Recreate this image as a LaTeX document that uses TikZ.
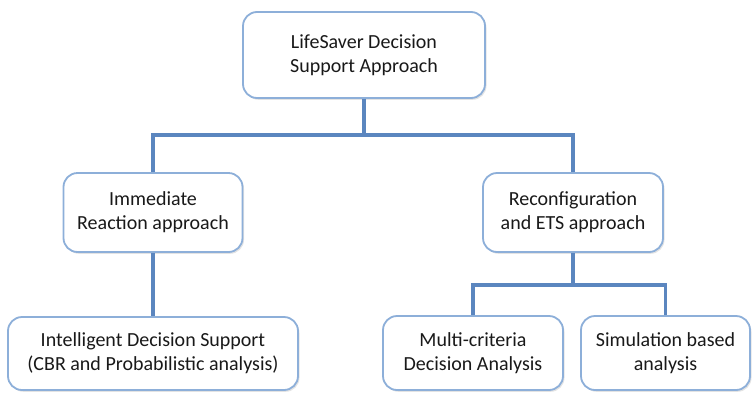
\documentclass[tikz,border=0pt]{standalone}
\usepackage{fontspec}
\setmainfont{Carlito}
\usetikzlibrary{shadows}
\definecolor{boxline}{HTML}{8DAFD9}
\definecolor{linkline}{HTML}{5B86BF}
\tikzset{
  stagebox/.style={draw=boxline, line width=1.8pt, rounded corners=14pt, fill=white,
    align=center, font=\fontsize{20}{24}\selectfont, text=black!90,
    inner sep=0pt, anchor=center,
    drop shadow={opacity=0.22, shadow xshift=1.5pt, shadow yshift=-1.8pt}},
  link/.style={draw=linkline, line width=3.2pt}
}
\begin{document}
\begin{tikzpicture}[x=1pt, y=-1pt]
  \useasboundingbox (0,0) rectangle (752,394);
  % boxes: minimum sizes follow the box extents
  \node[stagebox, minimum width=242pt, minimum height=86pt] (root) at (364,55)
    {LifeSaver Decision\\Support Approach};
  \node[stagebox, minimum width=179pt, minimum height=79pt] (imm) at (153,212.5)
    {Immediate\\Reaction approach};
  \node[stagebox, minimum width=180pt, minimum height=79pt] (rec) at (573,212.5)
    {Reconfiguration\\and ETS approach};
  \node[stagebox, minimum width=290pt, minimum height=73pt] (ids) at (153,353.5)
    {Intelligent Decision Support\\(CBR and Probabilistic analysis)};
  \node[stagebox, minimum width=180pt, minimum height=74pt] (mcd) at (473,353)
    {Multi-criteria\\Decision Analysis};
  \node[stagebox, minimum width=169pt, minimum height=74pt] (sim) at (665.5,353)
    {Simulation based\\analysis};
  % connectors
  \coordinate (rootjoin) at (364,135);
  \coordinate (recjoin) at (573,285);
  \draw[link] (root.south) -- (rootjoin);
  \draw[link] (rootjoin) -| (imm.north);
  \draw[link] (rootjoin) -| (rec.north);
  \draw[link] (imm.south) -- (ids.north);
  \draw[link] (rec.south) -- (recjoin);
  \draw[link] (recjoin) -| (mcd.north);
  \draw[link] (recjoin) -| (sim.north);
\end{tikzpicture}
\end{document}
